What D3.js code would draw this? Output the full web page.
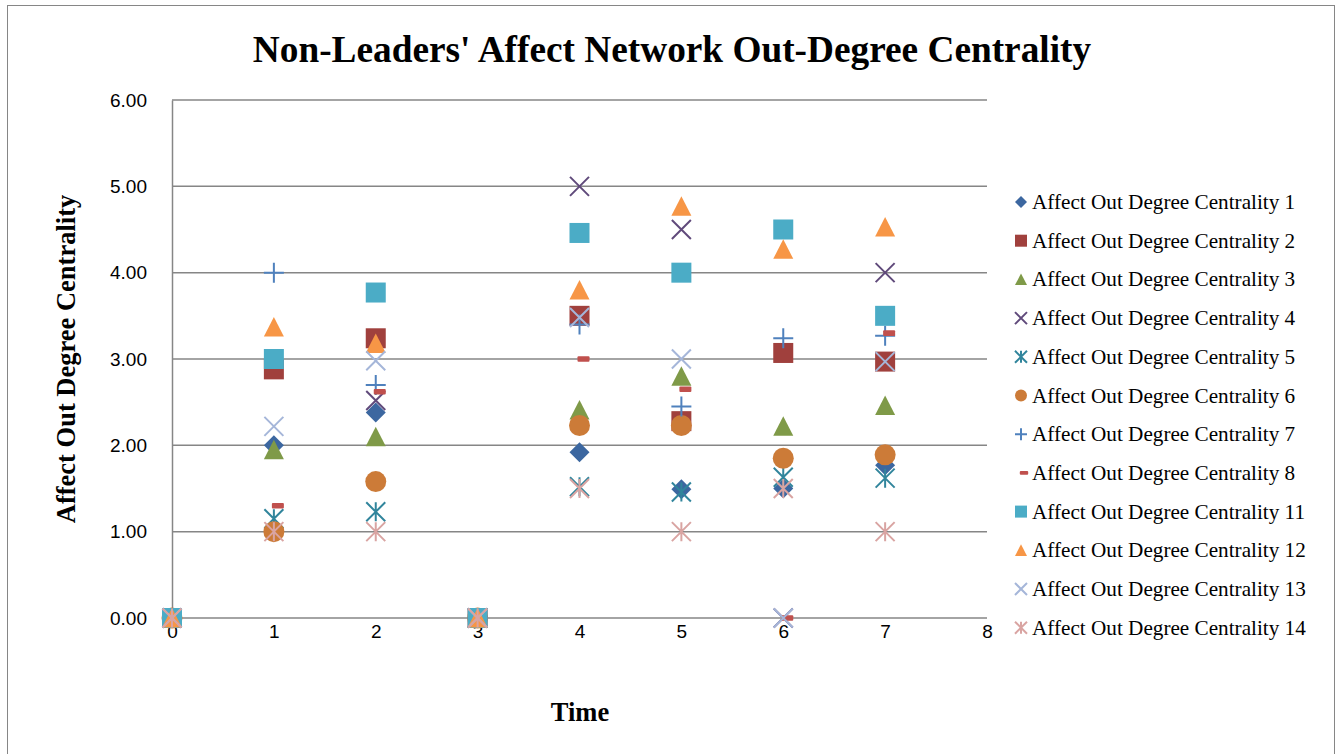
<!DOCTYPE html>
<html><head><meta charset="utf-8">
<script src="https://cdn.jsdelivr.net/npm/d3@7"></script>
<style>body{margin:0;background:#fff}svg{display:block}</style>
</head><body>
<svg id="c" width="1342" height="754"></svg>
<script>
const times = [0,1,2,3,4,5,6,7];
const seriesNames = ["Affect Out Degree Centrality 1","Affect Out Degree Centrality 2","Affect Out Degree Centrality 3","Affect Out Degree Centrality 4","Affect Out Degree Centrality 5","Affect Out Degree Centrality 6","Affect Out Degree Centrality 7","Affect Out Degree Centrality 8","Affect Out Degree Centrality 11","Affect Out Degree Centrality 12","Affect Out Degree Centrality 13","Affect Out Degree Centrality 14"];
const s1  = [0, 2.00, 2.38, 0, 1.92, 1.49, 1.50, 1.77];
const s2  = [0, 2.88, 3.24, 0, 3.50, 2.28, 3.07, 2.97];
const s3  = [0, 1.95, 2.10, 0, 2.41, 2.80, 2.22, 2.46];
const s4  = [0, null, 2.52, 0, 5.00, 4.50, 0, 4.00];
const s5  = [0, 1.15, 1.23, 0, 1.52, 1.46, 1.63, 1.62];
const s6  = [0, 1.00, 1.58, 0, 2.23, 2.23, 1.85, 1.89];
const s7  = [0, 4.00, 2.70, 0, 3.40, 2.45, 3.24, 3.27];
const s8  = [0, 1.30, 2.62, 0, 3.00, 2.65, 0, 3.30];
const s11 = [0, 3.00, 3.77, 0, 4.46, 4.00, 4.50, 3.50];
const s12 = [0, 3.37, 3.18, 0, 3.80, 4.77, 4.27, 4.53];
const s13 = [0, 2.22, 2.98, 0, 3.48, 3.00, 0, 2.97];
const s14 = [0, 1.00, 1.00, 0, 1.50, 1.00, 1.50, 1.00];
const seriesValues = [s1,s2,s3,s4,s5,s6,s7,s8,s11,s12,s13,s14];
const yTicks = [0,1,2,3,4,5,6];
const xTicks = [0,1,2,3,4,5,6,7,8];

const shapes = ["diamond","square","triangle","x","asterisk","circle","plus","dash","square","triangle","x","asterisk"];
const colors = ["#3C67A0","#A0403D","#7F9A48","#604A7B","#31859C","#CC7B38","#4F81BD","#C0504D","#4BACC6","#F79646","#A5B6D9","#D9A4A2"];

const serif = "Liberation Serif, Times New Roman, serif";
const sans = "Liberation Sans, Arial, sans-serif";

const svg = d3.select("#c");
svg.append("rect").attr("x",7.5).attr("y",5.5).attr("width",1327).attr("height",760)
  .attr("fill","#fff").attr("stroke","#868686").attr("stroke-width",1);

const x = d3.scaleLinear().domain([0,8]).range([172,987]);
const y = d3.scaleLinear().domain([0,6]).range([618,100]);

svg.append("text").attr("x",672).attr("y",62).attr("text-anchor","middle")
  .attr("font-family",serif).attr("font-weight","bold")
  .attr("font-size",37.3).text("Non-Leaders' Affect Network Out-Degree Centrality");

// grid
svg.append("g").selectAll("line").data(yTicks).join("line")
  .attr("x1",172).attr("x2",987).attr("y1",d=>y(d)).attr("y2",d=>y(d))
  .attr("stroke","#868686").attr("stroke-width",1.5);

// y axis
const ya = svg.append("g").attr("transform","translate(172,0)")
  .call(d3.axisLeft(y).tickValues(yTicks).tickFormat(d3.format(".2f")).tickSize(0).tickPadding(25));
ya.select(".domain").attr("stroke","#868686").attr("stroke-width",1.5);
ya.selectAll("text").attr("font-family",sans).attr("font-size",19).attr("fill","#000");

const xa = svg.append("g").attr("transform","translate(0,618)")
  .call(d3.axisBottom(x).tickValues(xTicks).tickFormat(d3.format("d")).tickSize(0).tickPadding(7));
xa.select(".domain").remove();
xa.selectAll("text").attr("font-family",sans).attr("font-size",19).attr("fill","#000");

svg.append("text").attr("x",580).attr("y",721).attr("text-anchor","middle")
  .attr("font-family",serif).attr("font-weight","bold")
  .attr("font-size",26.5).text("Time");
svg.append("text").attr("transform","translate(75,359) rotate(-90)").attr("text-anchor","middle")
  .attr("font-family",serif).attr("font-weight","bold")
  .attr("font-size",26.5).text("Affect Out Degree Centrality");

function drawMarker(g, shape, color, s) {
  const h = s/2;
  switch(shape){
    case "diamond": g.append("path").attr("d",`M0,${-h}L${h},0L0,${h}L${-h},0Z`).attr("fill",color); break;
    case "square": g.append("rect").attr("x",-h).attr("y",-h).attr("width",s).attr("height",s).attr("fill",color); break;
    case "triangle": g.append("path").attr("d",`M0,${-h}L${h},${h*0.95}L${-h},${h*0.95}Z`).attr("fill",color); break;
    case "circle": g.append("circle").attr("r",h).attr("fill",color); break;
    case "x": g.append("path").attr("d",`M${-h},${-h}L${h},${h}M${h},${-h}L${-h},${h}`).attr("stroke",color).attr("stroke-width",2).attr("fill","none"); break;
    case "plus": g.append("path").attr("d",`M${-h},0L${h},0M0,${-h}L0,${h}`).attr("stroke",color).attr("stroke-width",2).attr("fill","none"); break;
    case "asterisk": g.append("path").attr("d",`M${-h},${-h}L${h},${h}M${h},${-h}L${-h},${h}M0,${-h}L0,${h}`).attr("stroke",color).attr("stroke-width",2).attr("fill","none"); break;
    case "dash": g.append("rect").attr("x",-h*0.6).attr("y",-h*0.28).attr("width",h*1.2).attr("height",h*0.56).attr("rx",1).attr("fill",color); break;
  }
}

const sizes = {diamond:20,square:20,triangle:20,circle:21,x:19,plus:20,asterisk:19,dash:20};
seriesValues.forEach((vals,i)=>{
  const g = svg.append("g");
  vals.forEach((v,j)=>{
    if(v==null) return;
    const dx = shapes[i]==="dash" ? 4 : 0;
    const m = g.append("g").attr("transform",`translate(${x(times[j])+dx},${y(v)})`);
    drawMarker(m, shapes[i], colors[i], sizes[shapes[i]]);
  });
});

// legend
const lg = svg.append("g");
seriesNames.forEach((n,i)=>{
  const yy = 202 + i*38.7;
  const m = lg.append("g").attr("transform",`translate(${shapes[i]==="dash"?1024:1021},${yy})`);
  drawMarker(m, shapes[i], colors[i], shapes[i]==="dash"?14:12);
  lg.append("text").attr("x",1032).attr("y",yy+7).attr("font-family",serif)
    .attr("font-size",21.2).attr("fill","#000").text(n);
});
</script>
</body></html>
